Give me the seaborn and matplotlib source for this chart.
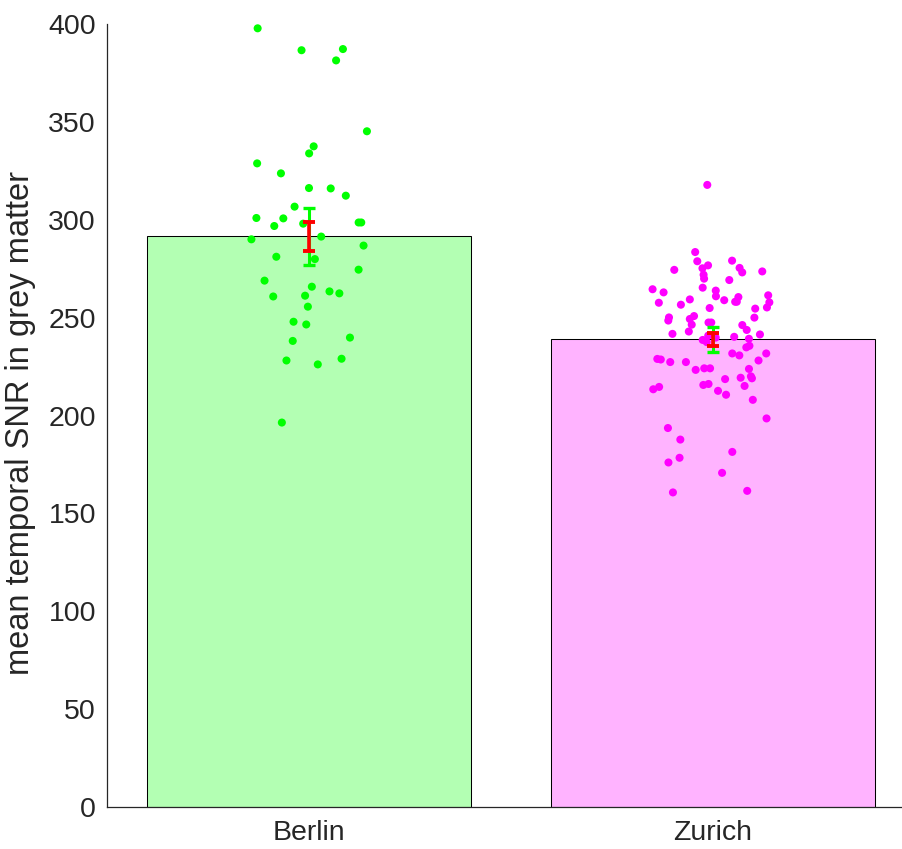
import numpy as np
import pandas as pd
import matplotlib
matplotlib.use("Agg")
import matplotlib.pyplot as plt
import seaborn as sns

# values
sites = ["Berlin", "Zurich"]
berlin_tsnr = [397.8, 387.2, 386.6, 381.4, 345.2, 337.5, 333.9, 328.8, 323.7, 316.2,
               316.0, 312.3, 306.7, 300.9, 300.7, 298.6, 296.8, 298.0, 298.6, 290.0,
               291.4, 286.8, 281.1, 279.9, 274.5, 268.9, 265.8, 262.4, 263.4, 261.2,
               260.8, 255.6, 247.9, 246.5, 238.1, 239.8, 229.0, 228.1, 226.1, 196.4]
zurich_tsnr = [317.8, 283.5, 279.1, 278.8, 276.7, 275.4, 275.2, 273.6, 274.4, 273.1,
               271.9, 269.9, 269.2, 263.8, 265.3, 264.5, 262.9, 260.5, 260.9, 258.1,
               261.4, 258.1, 257.6, 259.3, 258.9, 256.6, 257.8, 255.2, 254.6, 254.9,
               250.0, 248.5, 249.3, 247.5, 246.2, 247.5, 250.1, 250.8, 246.4, 242.9,
               241.7, 238.6, 237.5, 234.8, 239.2, 239.8, 240.8, 243.7, 241.4, 240.2,
               235.6, 231.7, 228.9, 228.1, 227.3, 224.1, 223.8, 230.7, 227.3, 231.7,
               228.6, 223.3, 220.0, 224.1, 218.6, 219.3, 219.0, 215.1, 213.4, 215.6,
               216.1, 214.6, 212.6, 210.6, 208.0, 198.5, 193.6, 187.7, 181.4, 176.0,
               178.4, 170.7, 160.7, 161.5]
y_ticks = [0, 50, 100, 150, 200, 250, 300, 350, 400]

bar_colors = ["#b3ffb3", "#ffb3ff"]
dot_colors = ["#00ff00", "#ff00ff"]
ink = "#262626"

df = pd.DataFrame({
    "site": ["Berlin"] * len(berlin_tsnr) + ["Zurich"] * len(zurich_tsnr),
    "tsnr": berlin_tsnr + zurich_tsnr,
})

sns.set_style("white")
plt.rcParams["font.family"] = ["Liberation Sans", "DejaVu Sans"]

fig = plt.figure(figsize=(9.02, 8.49), dpi=100)
ax = fig.add_axes([107 / 902, 42 / 849, 808 / 902, 783 / 849])

sns.barplot(data=df, x="site", y="tsnr", order=sites, hue="site", hue_order=sites,
            palette=bar_colors, saturation=1, errorbar=None, width=0.8,
            edgecolor="black", linewidth=0.75, legend=False, ax=ax)

np.random.seed(7)
sns.stripplot(data=df, x="site", y="tsnr", order=sites, hue="site", hue_order=sites,
              palette=dot_colors, jitter=0.15, size=5.8, linewidth=0,
              legend=False, zorder=3, ax=ax)

# error bars: green = 95% CI, red = SEM
stats = df.groupby("site")["tsnr"].agg(["mean", "sem"]).reindex(sites)
pos = np.arange(len(sites))
ax.errorbar(pos, stats["mean"], yerr=1.96 * stats["sem"], fmt="none",
            ecolor="#00ff00", elinewidth=2.2, capsize=4.3, capthick=2.4, zorder=4)
ax.errorbar(pos, stats["mean"], yerr=stats["sem"], fmt="none",
            ecolor="#ff0000", elinewidth=2.6, capsize=4.3, capthick=2.8, zorder=5)

ax.set_xlim(-0.5, 1.5)
ax.set_ylim(0, 400)
ax.set_yticks(y_ticks)
ax.set_xlabel("")
ax.set_ylabel("mean temporal SNR in grey matter", fontsize=23.5, color=ink)
ax.yaxis.set_label_coords(-0.088, 0.49)

sns.despine(ax=ax)
for side in ["left", "bottom"]:
    ax.spines[side].set_color(ink)
    ax.spines[side].set_linewidth(0.9)
ax.tick_params(axis="y", direction="in", length=6, width=0.9, color=ink,
               labelsize=20.5, labelcolor=ink, pad=8)
ax.tick_params(axis="x", length=0, labelsize=20.5, labelcolor=ink, pad=9)

fig.savefig("out.png", dpi=100)
